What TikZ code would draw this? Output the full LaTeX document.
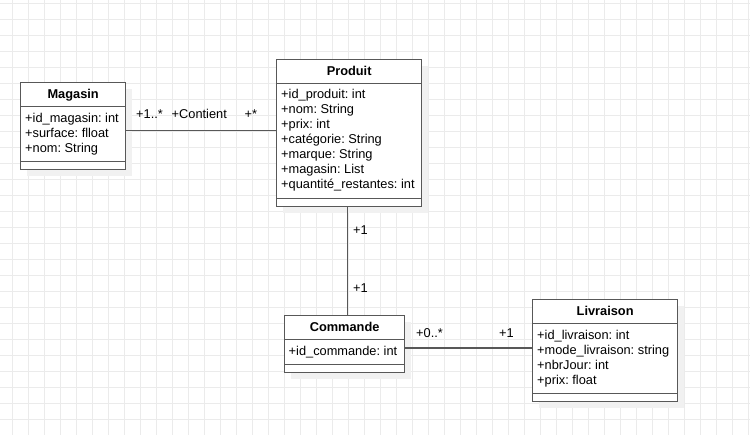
\documentclass[tikz,border=0pt]{standalone}
\usepackage{fontspec}
\setmainfont{Liberation Sans}
\usepackage{tikz}
\frenchspacing
\definecolor{umlline}{HTML}{585858}
\definecolor{gridgray}{HTML}{EBEBEB}
\definecolor{shadowgray}{HTML}{F1F1F1}

\begin{document}
\begin{tikzpicture}[x=1pt,y=-1pt,-]
            \tikzstyle{classbox}=[rectangle,draw=umlline,line width=1.3pt,fill=white,inner sep=0pt]
            \tikzstyle{classname}=[font=\fontsize{12.8}{15}\selectfont\bfseries,anchor=base,inner sep=0pt]
            \tikzstyle{classattr}=[font=\fontsize{12.8}{15}\selectfont,anchor=base west,inner sep=0pt]
            \tikzstyle{multlabel}=[font=\fontsize{12.8}{15}\selectfont,anchor=base west,inner sep=0pt]
            \tikzstyle{classrule}=[draw=umlline,line width=1.3pt]
            \tikzstyle{assocline}=[draw=umlline,line width=1.3pt]
            \useasboundingbox (0,0) rectangle (750,435);

            % background grid
            \foreach \k in {0,...,46}
                \draw[gridgray,line width=0.8pt] (12.7+16*\k,0) -- (12.7+16*\k,435);
            \foreach \k in {0,...,27}
                \draw[gridgray,line width=0.8pt] (0,3.3+16*\k) -- (750,3.3+16*\k);

            % classes
            \foreach \name/\x/\y/\w/\h in {magasin/20/82/105/87, produit/276/59/145/147, commande/284/315/120/57, livraison/532/299/145/102}
            {
                \fill[shadowgray] (\x+7,\y+7) rectangle (\x+\w+7,\y+\h+7);
                \node[classbox,minimum width=\w pt,minimum height=\h pt,anchor=north west] (\name) at (\x,\y) {};
                \draw[classrule] ([yshift=-24.5pt]\name.north west) -- ([yshift=-24.5pt]\name.north east);
                \draw[classrule] ([yshift=8.5pt]\name.south west) -- ([yshift=8.5pt]\name.south east);
            }

            \node[classname] (magasin-name) at ([yshift=-17pt]magasin.north) {Magasin};
            \node[classname] (produit-name) at ([yshift=-17pt]produit.north) {Produit};
            \node[classname] (commande-name) at ([yshift=-17pt]commande.north) {Commande};
            \node[classname] (livraison-name) at ([yshift=-17pt]livraison.north) {Livraison};

            \foreach \txt [count=\i] in {+id\_magasin: int, +surface: flloat, +nom: String}
                \node[classattr] (magasin-a\i) at (25,107.7+15*\i) {\txt};
            \foreach \txt [count=\i] in {+id\_produit: int, +nom: String, +prix: int, +catégorie: String, +marque: String, +magasin: List, +quantité\_restantes: int}
                \node[classattr] (produit-a\i) at (281,83.3+15*\i) {\txt};
            \foreach \txt [count=\i] in {+id\_commande: int}
                \node[classattr] (commande-a\i) at (288.5,340.5+15*\i) {\txt};
            \foreach \txt [count=\i] in {+id\_livraison: int, +mode\_livraison: string, +nbrJour: int, +prix: float}
                \node[classattr] (livraison-a\i) at (537,324.5+15*\i) {\txt};

            % associations
            \draw[assocline] ([yshift=-4.5pt]magasin.east) -- ([yshift=-4.5pt]magasin.east -| produit.west);
            \draw[assocline] ([xshift=-2pt]produit.south) -- ([xshift=-2pt]produit.south |- commande.north);
            \draw[assocline] ([yshift=-4pt]commande.east) -- ([yshift=-4pt]commande.east -| livraison.west);

            \node[multlabel] (m-magasin) at (136,118.5) {+1..*};
            \node[multlabel] (contient) at (171.5,118.5) {+Contient};
            \node[multlabel] (m-produit) at (244.5,118.5) {+*};
            \node[multlabel] (m-produit2) at (353,235) {+1};
            \node[multlabel] (m-commande) at (353,292.5) {+1};
            \node[multlabel] (m-commande2) at (416,338) {+0..*};
            \node[multlabel] (m-livraison) at (499,338) {+1};
\end{tikzpicture}
\end{document}
